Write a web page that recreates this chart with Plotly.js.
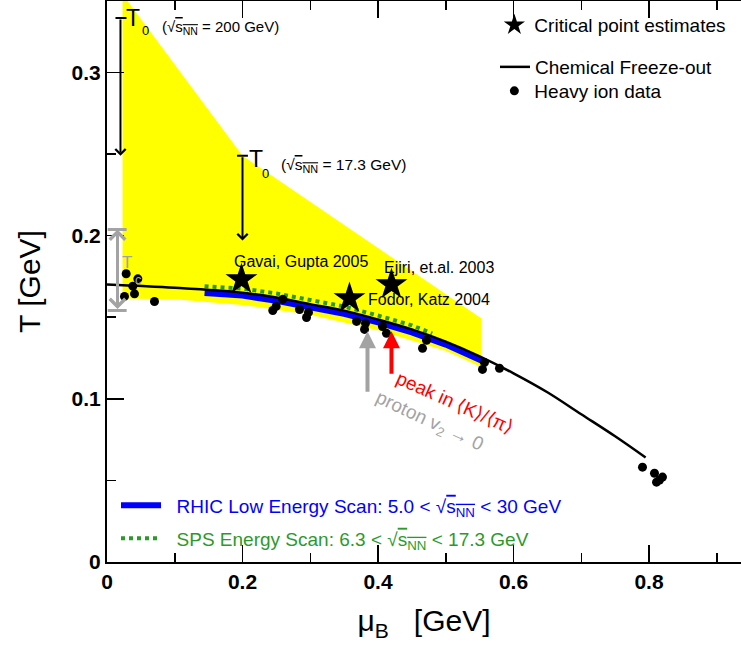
<!DOCTYPE html>
<html><head><meta charset="utf-8">
<script src="https://cdn.plot.ly/plotly-3.0.1.min.js"></script>
<style>html,body{margin:0;padding:0;background:#fff}</style>
</head><body><div id="chart" style="width:741px;height:650px"></div>
<script>
// Chemical freeze-out curve
const freezeMu = [0.0, 0.1, 0.2, 0.25, 0.3, 0.35, 0.4, 0.45, 0.5, 0.55, 0.6, 0.65, 0.7, 0.75, 0.795];
const freezeT  = [0.170, 0.168, 0.165, 0.162, 0.158, 0.154, 0.1486, 0.1425, 0.135, 0.126, 0.1156, 0.104, 0.0905, 0.077, 0.064];
// Heavy ion data points
const dataMu = [0.0283,0.0455,0.0381,0.0406,0.0258,0.0701,0.2595,0.2497,0.2447,0.2841,0.2974,0.2945,0.3683,0.3815,0.3801,0.4066,0.4125,0.4716,0.4657,0.5572,0.5542,0.5793,0.7904,0.8081,0.8111,0.8199,0.8155];
const dataT  = [0.1766,0.1735,0.1690,0.1643,0.1627,0.1596,0.1609,0.1566,0.1541,0.1547,0.1529,0.1498,0.1474,0.1462,0.1425,0.1443,0.1401,0.1358,0.1309,0.1223,0.1180,0.1187,0.0581,0.0544,0.0489,0.0520,0.0502];
// Critical point estimates
const cpMu = [0.1985, 0.3579, 0.4199];
const cpT  = [0.1731, 0.1615, 0.1700];
const cpLabels = ["Gavai, Gupta 2005", "Fodor, Katz 2004", "Ejiri, et.al. 2003"];
// RHIC low energy scan band
const rhicMu = [0.144, 0.2, 0.25, 0.3, 0.35, 0.4, 0.45, 0.5, 0.554];
const rhicT  = [0.1648, 0.1632, 0.160, 0.1562, 0.152, 0.1468, 0.1407, 0.1332, 0.1232];
// SPS energy scan
const spsMu = [0.144, 0.2, 0.25, 0.3, 0.35, 0.4, 0.45, 0.48];
const spsT  = [0.169, 0.1675, 0.1645, 0.1605, 0.1565, 0.151, 0.145, 0.140];
// Yellow region
const bandMu = [0.0229, 0.0303, 0.2, 0.5528, 0.5528, 0.5, 0.4, 0.3, 0.2, 0.1, 0.0229];
const bandT  = [0.3437, 0.3437, 0.2489, 0.1492, 0.1193, 0.1295, 0.142, 0.1515, 0.1575, 0.161, 0.1615];
// Tick labels
const xTickVals = [0, 0.2, 0.4, 0.6, 0.8];
const xTickText = ["0", "0.2", "0.4", "0.6", "0.8"];
const yTickVals = [0, 0.1, 0.2, 0.3];
const yTickText = ["0", "0.1", "0.2", "0.3"];
// Arrows: [tipMu, tipT, tailMu, tailT]
const t0_200 = [0.0199, 0.2489, 0.0199, 0.3333];
const t0_173 = [0.2, 0.1969, 0.2, 0.2489];
const tcArrow = [0.0155, 0.2037, 0.0155, 0.1541];
const kpiArrow = [0.4199, 0.1413, 0.4199, 0.1144];
const v2Arrow = [0.3845, 0.1413, 0.3845, 0.1034];

const FONT = "Liberation Sans, Arial, Helvetica, sans-serif";
const GRAY = "#a3a3a3";
const GREEN = "#2b9a2b";
const sq = '√<span style="text-decoration:overline">s<sub>NN</sub></span>';
const NB = '\u00a0\u00a0';

const traces = [
  {x: bandMu, y: bandT, type: 'scatter', mode: 'lines', fill: 'toself', fillcolor: '#ffff00',
   line: {width: 0, color: '#ffff00'}, showlegend: false, hoverinfo: 'skip'},
  {x: spsMu, y: spsT, type: 'scatter', mode: 'lines', line: {color: GREEN, width: 4, dash: 'dot'},
   name: NB + '<span style="color:' + GREEN + '">SPS Energy Scan: 6.3 &lt; ' + sq + ' &lt; 17.3 GeV</span>',
   legend: 'legend5'},
  {x: rhicMu, y: rhicT, type: 'scatter', mode: 'lines', line: {color: '#0000ff', width: 6},
   name: NB + '<span style="color:#0000ff">RHIC Low Energy Scan: 5.0 &lt; ' + sq + ' &lt; 30 GeV</span>',
   legend: 'legend2'},
  {x: freezeMu, y: freezeT, type: 'scatter', mode: 'lines', line: {color: 'black', width: 2.5, shape: 'spline'},
   name: 'Chemical Freeze-out', legend: 'legend3'},
  {x: dataMu, y: dataT, type: 'scatter', mode: 'markers', marker: {color: 'black', size: 9},
   name: 'Heavy ion data', legend: 'legend4'},
  {x: cpMu, y: cpT, type: 'scatter', mode: 'markers', marker: {color: 'black', size: 24, symbol: 'star'},
   name: 'Critical point estimates', legend: 'legend'}
];

function arrow(a, color, width, head, size, both) {
  const o = {x: a[0], y: a[1], ax: a[2], ay: a[3], xref: 'x', yref: 'y', axref: 'x', ayref: 'y',
    text: '', showarrow: true, arrowhead: head, arrowsize: size, arrowwidth: width, arrowcolor: color, standoff: 0, startstandoff: 0};
  if (both) { o.arrowside = 'end+start'; o.startarrowhead = head; o.startarrowsize = size; }
  return o;
}
function txt(x, y, t, size, color, anchor, angle) {
  return {x: x, y: y, xref: 'x', yref: 'y', text: t, showarrow: false,
    font: {family: FONT, size: size, color: color || 'black'}, xanchor: anchor || 'left', yanchor: 'middle',
    textangle: angle || 0};
}

const annotations = [
  arrow(t0_200, 'black', 2, 4, 1, false),
  arrow(t0_173, 'black', 2, 4, 1, false),
  arrow(tcArrow, GRAY, 3, 4, 1, true),
  arrow(kpiArrow, '#ff0000', 4, 2, 0.85, false),
  arrow(v2Arrow, GRAY, 4, 2, 0.85, false),
  txt(0.0391, 0.3333, 'T', 23, 'black', 'center'),
  txt(0.0568, 0.3254, '0', 13, 'black', 'center'),
  txt(0.0775, 0.3272, '(' + sq + ' = 200 GeV)', 15),
  txt(0.2192, 0.2471, 'T', 23, 'black', 'center'),
  txt(0.234, 0.238, '0', 13, 'black', 'center'),
  txt(0.2546, 0.2428, '(' + sq + ' = 17.3 GeV)', 15.5),
  txt(0.1838, 0.1841, cpLabels[0], 16),
  txt(0.383, 0.1609, cpLabels[1], 16),
  txt(0.4052, 0.1804, cpLabels[2], 16),
  txt(0.0288, 0.1835, 'T', 17, GRAY, 'center'),
  txt(0.0465, 0.1731, 'c', 13, GRAY, 'center'),
  txt(0.513, 0.0979, 'peak in ⟨K⟩/⟨π⟩', 19, '#ff0000', 'center', 24),
  txt(0.476, 0.0856, 'proton v<sub>2</sub> → 0', 19, GRAY, 'center', 25)
];

const shapes = [
  {type: 'line', xref: 'x', yref: 'y', x0: 0.0125, x1: 0.0288, y0: 0.3333, y1: 0.3333, line: {color: 'black', width: 2}},
  {type: 'line', xref: 'x', yref: 'y', x0: 0.192, x1: 0.208, y0: 0.2489, y1: 0.2489, line: {color: 'black', width: 2}},
  {type: 'line', xref: 'x', yref: 'y', x0: 0.001, x1: 0.029, y0: 0.2037, y1: 0.2037, line: {color: GRAY, width: 3}},
  {type: 'line', xref: 'x', yref: 'y', x0: 0.001, x1: 0.029, y0: 0.1541, y1: 0.1541, line: {color: GRAY, width: 3}}
];

const axisCommon = {
  showgrid: false, zeroline: false, showline: true, linecolor: 'black', linewidth: 2,
  ticks: 'inside', ticklen: 17, tickwidth: 1.5, tickcolor: 'black',
  tickfont: {family: FONT, size: 21, color: 'black'}
};

const legendBase = (x, y, w) => ({x: x, y: y, xanchor: 'left', yanchor: 'top', bgcolor: 'rgba(0,0,0,0)',
  font: {family: FONT, size: 19, color: 'black'}, itemwidth: w});

const layout = {
  width: 741, height: 650,
  margin: {l: 107, r: 0, t: 1, b: 88},
  paper_bgcolor: 'white', plot_bgcolor: 'white',
  font: {family: FONT},
  xaxis: Object.assign({}, axisCommon, {
    range: [0, 0.9358], tickmode: 'array', tickvals: xTickVals, ticktext: xTickText.map(s => '<b>' + s + '</b>'),
    mirror: 'ticks',
    minor: {tickmode: 'linear', tick0: 0, dtick: 0.1, ticklen: 9, tickwidth: 1.5, tickcolor: 'black', ticks: 'inside'},
    title: {text: 'μ<sub>B</sub>\u00a0\u00a0\u00a0[GeV]', font: {family: FONT, size: 30, color: 'black'}, standoff: 18}
  }),
  yaxis: Object.assign({}, axisCommon, {
    range: [0, 0.3437], tickmode: 'array', tickvals: yTickVals, ticktext: yTickText.map(s => '<b>' + s + '</b>'),
    minor: {tickmode: 'linear', tick0: 0, dtick: 0.05, ticklen: 9, tickwidth: 1.5, tickcolor: 'black', ticks: 'inside'},
    title: {text: 'T [GeV]', font: {family: FONT, size: 30, color: 'black'}, standoff: 22}
  }),
  legend: legendBase(0.611, 0.9911, 30),
  legend3: legendBase(0.612, 0.9162, 30),
  legend4: legendBase(0.611, 0.8734, 30),
  legend2: legendBase(0.0142, 0.1346, 40),
  legend5: legendBase(0.0142, 0.0758, 40),
  annotations: annotations,
  shapes: shapes,
  showlegend: true
};

Plotly.newPlot('chart', traces, layout, {staticPlot: true, displayModeBar: false});
</script>
</body></html>
